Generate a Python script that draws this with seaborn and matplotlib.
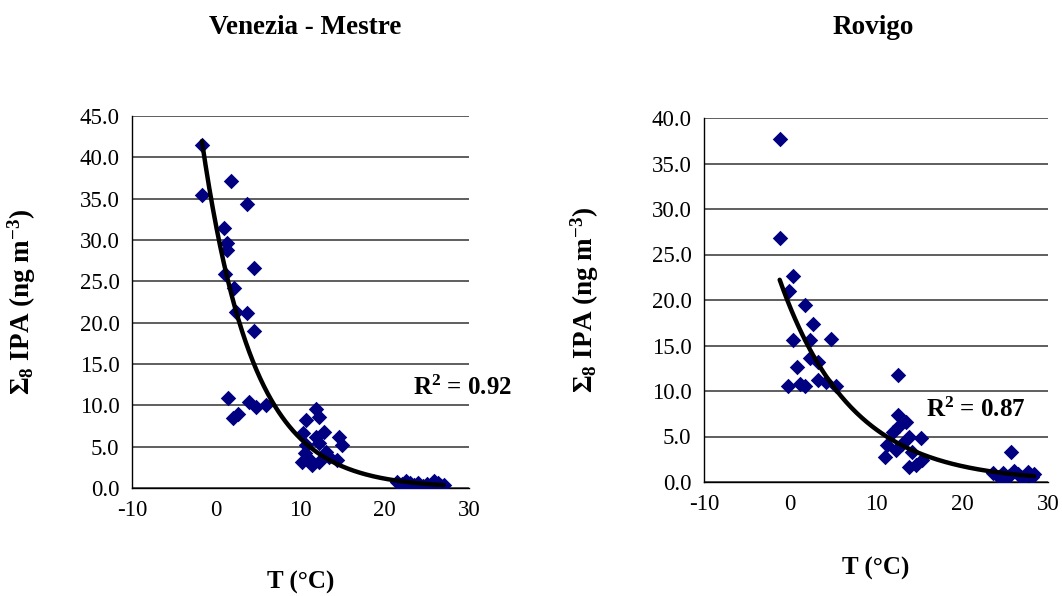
import numpy as np
import pandas as pd
import matplotlib
matplotlib.use("Agg")
import matplotlib.pyplot as plt
import seaborn as sns

# ---------------- data ----------------
mestre_T = [-1.7, -1.7, 1.8, 3.6, 0.9, 1.3, 1.3, 1.0, 2.1, 2.4, 3.6, 4.5, 4.5,
            1.4, 2.0, 2.6, 3.9, 4.7, 5.9,
            11.8, 12.2, 10.6, 10.3, 11.8, 14.6, 14.9, 10.7, 12.2, 10.5, 13.0,
            11.1, 10.2, 14.3, 12.2, 13.4, 11.4, 12.8,
            21.5, 22.0, 22.5, 23.0, 23.5, 24.0, 24.5, 25.0, 25.5, 25.8, 26.0,
            26.3, 26.7, 27.0, 22.8]
mestre_IPA = [41.5, 35.4, 37.1, 34.4, 31.5, 29.6, 28.8, 25.9, 24.2, 21.3, 21.2, 26.6, 19.0,
              10.9, 8.5, 9.0, 10.4, 9.8, 10.0,
              9.6, 8.6, 8.2, 6.6, 6.2, 6.2, 5.2, 5.2, 5.4, 4.2, 4.4,
              3.4, 3.2, 3.4, 3.2, 3.8, 2.8, 6.8,
              0.7, 0.5, 0.8, 0.6, 0.4, 0.6, 0.3, 0.5, 0.4, 0.8, 0.35,
              0.6, 0.3, 0.4, 0.3]

rovigo_T = [-1.2, -1.2, 0.4, -0.1, 1.7, 2.7, 0.4, 2.3, 4.8, 2.3, 3.3, 0.8, -0.2,
            1.2, 1.7, 3.3, 4.2, 5.4,
            12.5, 12.5, 13.5, 12.7, 13.8, 15.2, 11.3, 12.3, 11.0, 14.2, 13.8,
            15.4, 14.6, 12.0, 13.0,
            25.7, 23.6, 24.3, 25.0, 26.1, 26.9, 27.7, 28.1, 24.8, 25.5, 26.5,
            27.3, 28.4]
rovigo_IPA = [37.7, 26.8, 22.6, 21.0, 19.5, 17.4, 15.6, 15.6, 15.7, 13.6, 13.2, 12.6, 10.5,
              10.8, 10.5, 11.2, 11.0, 10.5,
              11.8, 7.4, 6.6, 6.1, 5.0, 4.8, 4.1, 3.5, 2.8, 3.3, 1.7,
              2.4, 1.9, 5.5, 4.2,
              3.3, 1.0, 0.5, 0.3, 1.2, 0.5, 1.1, 0.6, 1.0, 0.7, 0.9,
              0.5, 0.9]

titles = ["Venezia - Mestre", "Rovigo"]
r2_labels = [r"R$^{\mathbf{2}}$ = 0.92", r"R$^{\mathbf{2}}$ = 0.87"]
x_ticks = [-10, 0, 10, 20, 30]
y_max = [45, 40]

# ---------------- style ----------------
sns.set_theme(style="white")
plt.rcParams["font.family"] = ["Liberation Serif", "DejaVu Serif"]
plt.rcParams["mathtext.fontset"] = "custom"
plt.rcParams["mathtext.rm"] = "Liberation Serif"
plt.rcParams["mathtext.bf"] = "Liberation Serif:bold"
plt.rcParams["mathtext.it"] = "Liberation Serif:italic"
plt.rcParams["axes.unicode_minus"] = False
plt.rcParams["text.color"] = "black"
plt.rcParams["axes.labelcolor"] = "black"

fig = plt.figure(figsize=(10.62, 5.96), dpi=100)
W, H = 1062, 596
ax_boxes = [(132, 469, 116, 488), (704, 1048, 118, 482)]

datasets = [(mestre_T, mestre_IPA), (rovigo_T, rovigo_IPA)]
r2_pos = [(462, 388), (976, 410)]
ylab_x = [38, 601]
title_x = [305, 873]
xlab_y = [582, 568]

for i, ((T, V), (l, r, t, b)) in enumerate(zip(datasets, ax_boxes)):
    ax = fig.add_axes([l / W, 1 - b / H, (r - l) / W, (b - t) / H])
    df = pd.DataFrame({"T": T, "IPA": V})
    sns.scatterplot(data=df, x="T", y="IPA", ax=ax, marker="D", s=62,
                    color="#000080", edgecolor="#000080", linewidth=0, zorder=3)
    # exponential trendline (Excel style): ln(y) = ln(a) + b x
    b_, ln_a = np.polyfit(df["T"], np.log(df["IPA"]), 1)
    xs = np.linspace(df["T"].min(), df["T"].max(), 200)
    ax.plot(xs, np.exp(ln_a) * np.exp(b_ * xs), color="black", lw=3.2, zorder=4)

    ax.set_xlim(-10, 30)
    ax.set_ylim(0, y_max[i])
    ax.set_xticks(x_ticks)
    ax.set_xticklabels([str(v) for v in x_ticks])
    ax.set_yticks(np.arange(0, y_max[i] + 0.1, 5))
    ax.set_yticklabels([f"{v:.1f}" for v in np.arange(0, y_max[i] + 0.1, 5)])
    ax.tick_params(axis="both", labelsize=16.5, colors="black", direction="out",
                   length=6, width=1)
    ax.tick_params(axis="x", pad=3)
    ax.tick_params(axis="y", pad=3)
    ax.yaxis.grid(True, color="#333333", lw=1.1)
    ax.xaxis.grid(False)
    for s in ["top", "right"]:
        ax.spines[s].set_visible(False)
    ax.spines["bottom"].set_color("black")
    ax.spines["left"].set_color("black")
    ax.spines["bottom"].set_linewidth(1)
    ax.spines["left"].set_linewidth(1)
    ax.set_xlabel("")
    ax.set_ylabel(r"$\mathbf{\Sigma_8}$ IPA (ng m$^{\mathbf{-3}}$)",
                  fontsize=19.5, fontweight="bold", color="black")
    ax.yaxis.set_label_coords((ylab_x[i] - l) / (r - l), 0.5)

    fig.text(title_x[i] / W, 1 - 28 / H, titles[i], ha="center", va="center",
             fontsize=19.5, fontweight="bold", color="black")
    fig.text((l + r) / 2 / W, 1 - xlab_y[i] / H, "T (°C)", ha="center",
             va="center", fontsize=18, fontweight="bold", color="black")
    fig.text(r2_pos[i][0] / W, 1 - r2_pos[i][1] / H, r2_labels[i], ha="center",
             va="center", fontsize=18, fontweight="bold", color="black")

fig.savefig("out.png", dpi=100)
